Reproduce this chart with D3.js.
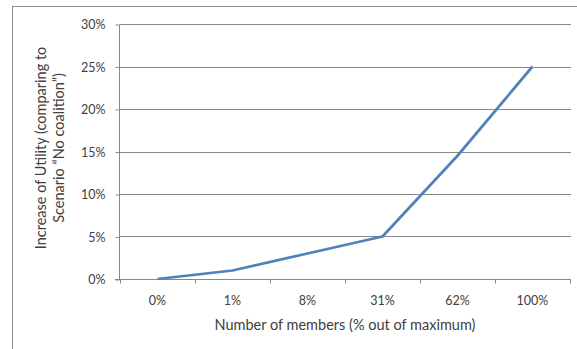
<!DOCTYPE html>
<html>
<head>
<meta charset="utf-8">
<script src="https://cdn.jsdelivr.net/npm/d3@7"></script>
<style>
  html, body { margin: 0; padding: 0; background: #fff; }
  svg { display: block; }
  text { font-family: Lato, "Open Sans", sans-serif; fill: #404040; }
</style>
</head>
<body>
<svg id="chart" width="577" height="349"></svg>
<script>
// Categories: coalition size as share of the maximum number of members
const categories = ["0%", "1%", "8%", "31%", "62%", "100%"];
// Increase of utility relative to the "No coalition" scenario (fractions)
const utilityGain = [0, 0.01, 0.03, 0.05, 0.145, 0.25];
// Y axis tick values
const yTicks = [0, 0.05, 0.10, 0.15, 0.20, 0.25, 0.30];

const svg = d3.select("#chart");
const W = 577, H = 349;

// Outer chart frame
svg.append("rect")
  .attr("x", 12.5).attr("y", 6.5)
  .attr("width", W + 10).attr("height", H + 10)
  .attr("fill", "none").attr("stroke", "#8c8c8c").attr("stroke-width", 1);

const x = d3.scaleBand().domain(categories).range([120, 570]);
const y = d3.scaleLinear().domain([0, 0.30]).range([279, 24]);

// Horizontal gridlines
svg.append("g").selectAll("line").data(yTicks.filter(d => d > 0)).join("line")
  .attr("x1", 120).attr("x2", 571)
  .attr("y1", d => Math.round(y(d)) + 0.5).attr("y2", d => Math.round(y(d)) + 0.5)
  .attr("stroke", "#888").attr("stroke-width", 1);

// Y axis
const yAxis = svg.append("g").attr("transform", "translate(119.5,0.5)")
  .call(d3.axisLeft(y).tickValues(yTicks).tickFormat(d3.format(".0%")).tickSize(4).tickPadding(10));
yAxis.selectAll("line").attr("stroke", "#888");
yAxis.select(".domain").attr("stroke", "#888").attr("d", `M0,${y(0.30)}V${y(0)}`);
yAxis.selectAll("text").attr("font-size", 12.5).attr("fill", "#404040")
  .style("font-family", "Lato, 'Open Sans', sans-serif");

// X axis (ticks on category boundaries)
const xAxisG = svg.append("g").attr("transform", `translate(0,${Math.round(y(0)) + 0.5})`);
xAxisG.append("line").attr("x1", 115).attr("x2", 571).attr("stroke", "#888");
const bounds = categories.map(c => x(c)).concat([x.range()[1]]);
xAxisG.selectAll("line.tick").data(bounds).join("line").attr("class", "tick")
  .attr("x1", d => Math.round(d) + 0.5).attr("x2", d => Math.round(d) + 0.5)
  .attr("y1", 0).attr("y2", 4).attr("stroke", "#888");
xAxisG.selectAll("text").data(categories).join("text")
  .attr("x", d => x(d) + x.bandwidth() / 2)
  .attr("y", 25)
  .attr("text-anchor", "middle").attr("font-size", 12.5)
  .text(d => d);

// Axis titles
svg.append("text")
  .attr("x", 345).attr("y", 330)
  .attr("text-anchor", "middle").attr("font-size", 14.5)
  .text("Number of members (% out of maximum)");

const yTitle = svg.append("text")
  .attr("transform", "translate(46,148) rotate(-90)")
  .attr("text-anchor", "middle").attr("font-size", 14.5);
yTitle.append("tspan").attr("x", 0).attr("dy", 0).text("Increase of Utility (comparing to");
yTitle.append("tspan").attr("x", 0).attr("dy", 18).text("Scenario \u201CNo coalition\u201D)");

// Data line
const line = d3.line()
  .x((d, i) => x(categories[i]) + x.bandwidth() / 2)
  .y(d => y(d));
svg.append("path").datum(utilityGain)
  .attr("d", line)
  .attr("fill", "none").attr("stroke", "#4F81BD")
  .attr("stroke-width", 2.75).attr("stroke-linejoin", "round");
</script>
</body>
</html>
